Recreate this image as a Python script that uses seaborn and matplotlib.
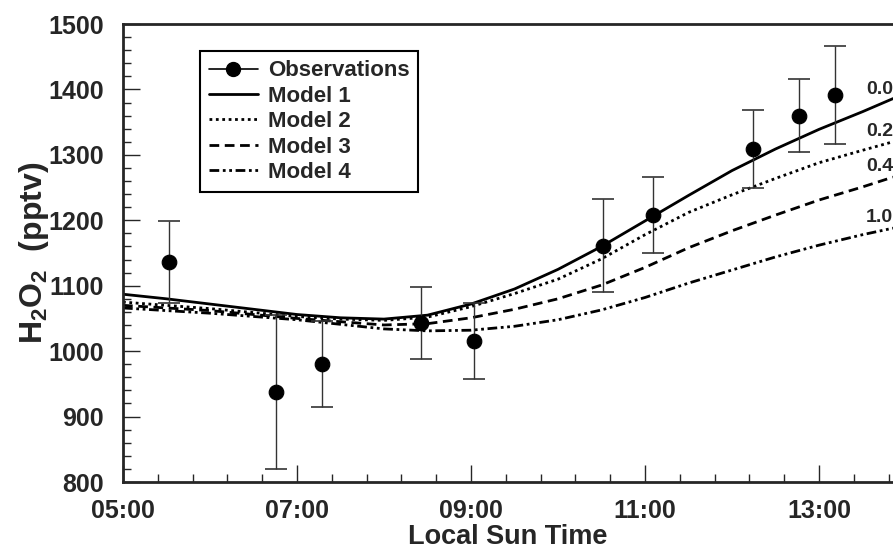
import numpy as np
import pandas as pd
import matplotlib
matplotlib.use("Agg")
import matplotlib.pyplot as plt
import seaborn as sns
from matplotlib.lines import Line2D
from matplotlib.ticker import FixedLocator, MultipleLocator

# observations (local sun time in hours, H2O2 in pptv)
obs_time = [5.53, 6.76, 7.29, 8.42, 9.03, 10.52, 11.09, 12.24, 12.77, 13.18]
obs_h2o2 = [1136, 938, 980, 1043, 1015, 1161, 1208, 1309, 1360, 1391]
obs_err = [63, 118, 66, 55, 58, 71, 58, 60, 56, 75]

# model runs
model_time = [5.0, 5.5, 6.0, 6.5, 7.0, 7.5, 8.0, 8.5, 9.0, 9.5, 10.0,
              10.5, 11.0, 11.5, 12.0, 12.5, 13.0, 13.5, 13.85]
model1 = [1087, 1080, 1072, 1064, 1056, 1051, 1049, 1055, 1072, 1095, 1125,
          1160, 1199, 1238, 1276, 1309, 1339, 1366, 1386]
model2 = [1075, 1070, 1065, 1059, 1053, 1049, 1047, 1052, 1068, 1088, 1110,
          1141, 1178, 1212, 1239, 1264, 1288, 1307, 1320]
model3 = [1070, 1066, 1062, 1056, 1050, 1045, 1040, 1042, 1051, 1064, 1080,
          1101, 1128, 1158, 1184, 1208, 1231, 1251, 1266]
model4 = [1066, 1062, 1058, 1053, 1048, 1041, 1034, 1031, 1032, 1038, 1048,
          1063, 1082, 1104, 1124, 1144, 1162, 1178, 1188]
model_names = ["Model 1", "Model 2", "Model 3", "Model 4"]
model_tags = ["0.0", "0.2", "0.4", "1.0"]
tag_y = [1400, 1336, 1282, 1205]

sns.set_style("ticks")
plt.rcParams['font.family'] = ['Liberation Sans', 'DejaVu Sans']
plt.rcParams['font.weight'] = 'bold'
plt.rcParams['mathtext.fontset'] = 'custom'
plt.rcParams['mathtext.rm'] = 'Liberation Sans:bold'
plt.rcParams['mathtext.bf'] = 'Liberation Sans:bold'
plt.rcParams['mathtext.default'] = 'rm'

fig = plt.figure(figsize=(8.93, 5.52), dpi=100)
ax = fig.add_axes([0.1377, 0.1268, 0.8623, 0.8297])

styles = {
    "Model 1": dict(linestyle="-"),
    "Model 2": dict(linestyle=(0, (1, 1.3))),
    "Model 3": dict(linestyle=(0, (3.5, 2))),
    "Model 4": dict(linestyle=(0, (3.5, 1.3, 1, 1.3, 1, 1.3))),
}
for name, vals in zip(model_names, [model1, model2, model3, model4]):
    df = pd.DataFrame({"t": model_time, "v": vals})
    sns.lineplot(data=df, x="t", y="v", ax=ax, color="black", lw=2,
                 **styles[name])

ax.errorbar(obs_time, obs_h2o2, yerr=obs_err, fmt="none", ecolor="#333333",
            elinewidth=1, capsize=8, capthick=1.2, zorder=3)
sns.scatterplot(x=obs_time, y=obs_h2o2, ax=ax, color="black", s=110,
                edgecolor="black", zorder=4)

for tag, ty in zip(model_tags, tag_y):
    ax.text(13.85, ty, tag, ha="right", va="center", fontsize=14,
            fontweight="bold")

ax.set_xlim(5, 13.85)
ax.set_ylim(800, 1500)
ax.xaxis.set_major_locator(FixedLocator([5, 7, 9, 11, 13]))
ax.set_xticklabels(["05:00", "07:00", "09:00", "11:00", "13:00"])
ax.xaxis.set_minor_locator(FixedLocator(np.arange(5, 14, 0.4)))
ax.yaxis.set_major_locator(MultipleLocator(100))
ax.yaxis.set_minor_locator(MultipleLocator(20))
ax.tick_params(which="major", direction="in", length=12, width=1,
               labelsize=18)
ax.tick_params(axis="x", which="major", pad=12)
ax.tick_params(axis="y", which="major", pad=14)
ax.tick_params(which="minor", direction="in", length=6, width=1)
for lab in ax.get_xticklabels() + ax.get_yticklabels():
    lab.set_fontweight("bold")

for side in ["left", "bottom", "top"]:
    ax.spines[side].set_linewidth(2)
ax.spines["right"].set_visible(False)

ax.set_xlabel("Local Sun Time", fontsize=19.5, fontweight="bold", labelpad=1)
ax.set_ylabel("H$_2$O$_2$  (pptv)", fontsize=23, fontweight="bold")
ax.yaxis.set_label_coords(-0.094, 0.5)

handles = [Line2D([], [], color="black", lw=1.2, marker="o", markersize=10)]
for name in model_names:
    handles.append(Line2D([], [], color="black", lw=2, **styles[name]))
leg = ax.legend(handles, ["Observations"] + model_names, loc="upper left",
                bbox_to_anchor=(0.1, 0.94), borderaxespad=0, fontsize=16,
                handlelength=2.2, labelspacing=0.2, handletextpad=0.45,
                fancybox=False, framealpha=1, edgecolor="black",
                borderpad=0.4)
leg.get_frame().set_linewidth(1.5)
for t in leg.get_texts():
    t.set_fontweight("bold")

fig.savefig("out.png", dpi=100)
